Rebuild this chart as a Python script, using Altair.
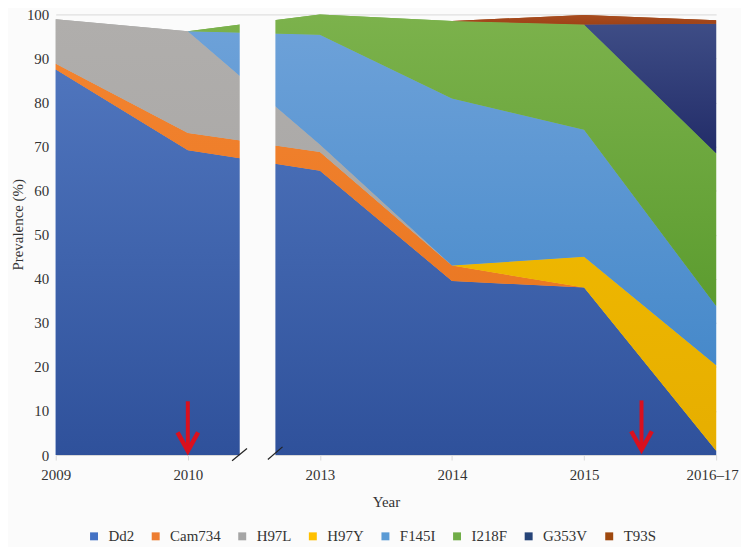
import altair as alt
import pandas as pd

# ---------------- data ----------------
years = ["2009", "2010", "2013", "2014", "2015", "2016\u201317"]
x_pos = [0, 1, 2, 3, 4, 5]
series = ["Dd2", "Cam734", "H97L", "H97Y", "F145I", "I218F", "G353V", "T93S"]

dd2    = [87.5, 69.2, 64.5, 39.5, 38.0, 1.0]
cam734 = [1.3, 3.9, 4.3, 3.5, 0.0, 0.0]
h97l   = [10.1, 23.1, 1.7, 0.0, 0.0, 0.0]
h97y   = [0.0, 0.0, 0.0, 0.0, 7.0, 19.4]
f145i  = [0.0, 0.0, 24.9, 37.9, 28.8, 13.4]
i218f  = [0.0, 0.0, 4.6, 17.6, 23.9, 34.7]
g353v  = [0.0, 0.0, 0.0, 0.0, 0.0, 29.4]
t93s   = [0.0, 0.0, 0.0, 0.0, 2.2, 0.8]
values = [dd2, cam734, h97l, h97y, f145i, i218f, g353v, t93s]

legend_colors = ["#4472C4", "#ED7D31", "#A5A5A5", "#FFC000",
                 "#5B9BD5", "#70AD47", "#264478", "#9E480E"]
grad_top    = ["#4f75bd", "#f2832f", "#b0aeac", "#f7c000",
               "#6ea2d9", "#7cb24c", "#404f88", "#a84c1f"]
grad_bottom = ["#2f519b", "#e5711c", "#a3a1a0", "#e6ae00",
               "#4689ca", "#5c9c2f", "#222c68", "#983c12"]

# annotation geometry (in data units)
gap_x = [1.393, 1.663]
gap_y = [-0.5, 99.4]
slash_x0 = [1.335, 1.606]
slash_x1 = [1.448, 1.717]
slash_y0 = [-1.3, -1.0]
slash_y1 = [1.5, 1.85]
arrow_x = [1.0, 4.435]
arrow_top = [12.2, 12.4]
arrow_tip = [0.96, 1.2]
head_dx = 0.078
head_dy = 4.2

bg = "#fbfbfb"
font = "Liberation Serif"
text_color = "#333333"

# ---------------- tables ----------------
rows = []
for i, s in enumerate(series):
    for j, xv in enumerate(x_pos):
        rows.append({"x": xv, "series": s, "value": values[i][j], "order": i})
df = pd.DataFrame(rows)

gap_df = pd.DataFrame({"x0": [gap_x[0]], "x1": [gap_x[1]],
                       "y0": [gap_y[0]], "y1": [gap_y[1]]})
slash_df = pd.DataFrame({"x0": slash_x0, "x1": slash_x1,
                         "y0": slash_y0, "y1": slash_y1})
shaft_df = pd.DataFrame({"x": arrow_x, "yt": arrow_top, "yb": arrow_tip})
head_rows = []
for a, (ax, tip) in enumerate(zip(arrow_x, arrow_tip)):
    head_rows.append({"a": a, "k": 0, "x": ax - head_dx, "y": tip + head_dy})
    head_rows.append({"a": a, "k": 1, "x": ax, "y": tip})
    head_rows.append({"a": a, "k": 2, "x": ax + head_dx, "y": tip + head_dy})
head_df = pd.DataFrame(head_rows)

label_expr = "[" + ",".join("'" + y + "'" for y in years) + "][datum.value]"

x_axis = alt.Axis(values=x_pos, labelExpr=label_expr, title="Year", grid=False,
                  tickSize=5, tickColor="#d9d9d9", domainColor="#d9d9d9",
                  labelPadding=8, labelFont=font, labelFontSize=15,
                  labelColor=text_color, labelFlush=False, labelOverlap=False,
                  labelOffset={"condition": {"test": "datum.value == 5", "value": -4},
                               "value": 0},
                  titleFont=font, titleFontSize=15, titleFontWeight="normal",
                  titleColor=text_color, titleY=47, titleBaseline="middle")
y_axis = alt.Axis(values=list(range(0, 101, 10)), title="Prevalence (%)",
                  grid=True, gridColor="#d9d9d9", ticks=False, tickSize=0,
                  domain=False, labelPadding=7, labelFont=font,
                  labelFontSize=15, labelColor=text_color,
                  titleFont=font, titleFontSize=15, titleFontWeight="normal",
                  titleColor=text_color, titleX=-38, titleY=211,
                  titleBaseline="middle")

base = alt.Chart(df).transform_stack(
    stack="value", groupby=["x"], as_=["y0", "y1"],
    sort=[alt.SortField("order", order="ascending")])

flat = base.mark_area(interpolate="linear").encode(
    x=alt.X("x:Q", scale=alt.Scale(domain=[0, 5], nice=False, zero=False), axis=x_axis),
    y=alt.Y("y1:Q", scale=alt.Scale(domain=[0, 100], nice=False), axis=y_axis),
    y2="y0:Q",
    color=alt.Color("series:N", sort=series,
                    scale=alt.Scale(domain=series, range=legend_colors),
                    legend=alt.Legend(title=None, orient="none", legendX=31,
                                      legendY=517, direction="horizontal",
                                      symbolType="square", symbolSize=64,
                                      symbolStrokeWidth=0, labelFont=font,
                                      labelFontSize=15, labelColor=text_color,
                                      columnPadding=14, labelOffset=7)),
)

overlays = []
for i, s in enumerate(series):
    grad = alt.Gradient(gradient="linear",
                        stops=[alt.GradientStop(color=grad_top[i], offset=0),
                               alt.GradientStop(color=grad_bottom[i], offset=1)],
                        x1=0, x2=0, y1=0, y2=1)
    overlays.append(
        base.transform_filter(alt.datum.series == s)
        .mark_area(interpolate="linear", fill=grad)
        .encode(x="x:Q", y="y1:Q", y2="y0:Q"))

gap = alt.Chart(gap_df).mark_rect(color=bg).encode(
    x="x0:Q", x2="x1:Q", y="y0:Q", y2="y1:Q")
slashes = alt.Chart(slash_df).mark_rule(color="#222222", strokeWidth=1.2).encode(
    x="x0:Q", x2="x1:Q", y="y0:Q", y2="y1:Q")
red = "#D9101E"
shafts = alt.Chart(shaft_df).mark_rule(color=red, strokeWidth=4, strokeCap="butt").encode(
    x="x:Q", y="yt:Q", y2="yb:Q")
heads = alt.Chart(head_df).mark_line(color=red, strokeWidth=4.5, strokeJoin="miter",
                                     strokeCap="butt").encode(
    x="x:Q", y="y:Q", detail="a:N", order="k:Q")

chart = alt.layer(flat, *overlays, gap, slashes, shafts, heads).properties(
    width=664, height=443,
    padding={"left": 48, "top": 5, "right": 25, "bottom": 91},
    autosize=alt.AutoSizeParams(type="none"),
    background=bg,
).configure_view(stroke=None)

chart.save("out.html", embed_options={"renderer": "svg", "actions": False})
